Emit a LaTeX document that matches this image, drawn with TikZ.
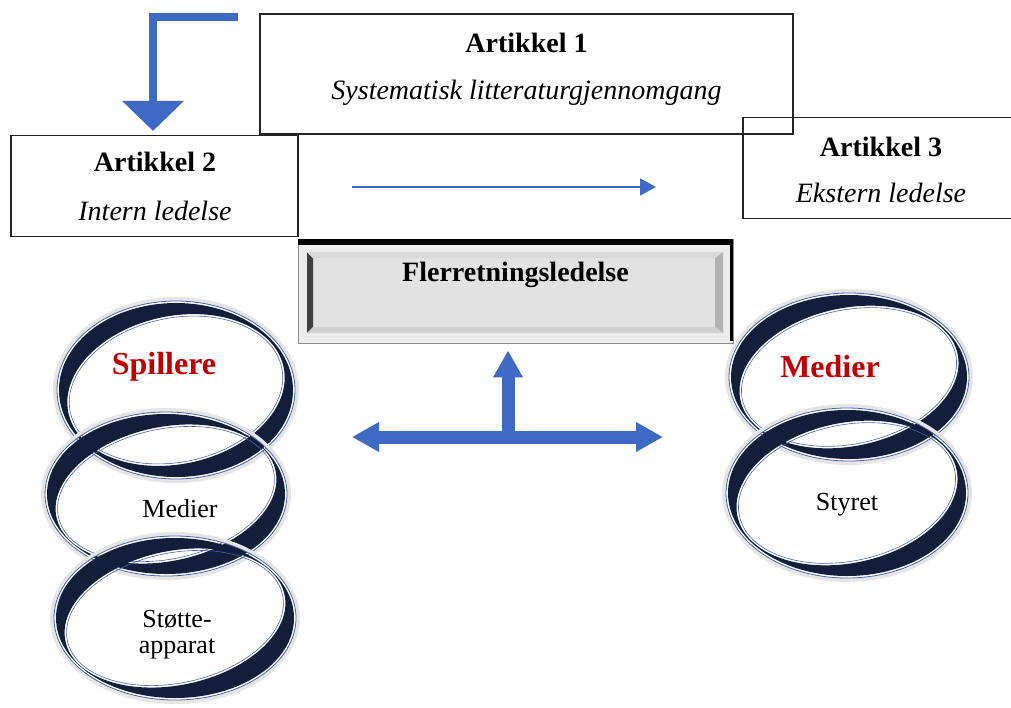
\documentclass[tikz,border=0pt]{standalone}
\usepackage{fontspec}
\setmainfont{Liberation Serif}
\usetikzlibrary{arrows.meta}
\usetikzlibrary{positioning}

% one ring of the chain: centre, x radius, y radius
\newcommand{\ringlink}[3]{%
	\begin{scope}[shift={#1}]
		\draw[line width=4pt, black!10] (0,0) ellipse [x radius=#2+4, y radius=#3+4];
		\draw[RING_LINE, line width=0.8pt] (0,0) ellipse [x radius=#2+2, y radius=#3+2];
		\fill[RING_NAVY, even odd rule] (0,0) ellipse [x radius=#2, y radius=#3]
			(0,0) ellipse [x radius=#2-7, y radius=#3-13, rotate=12];
		\draw[RING_LINE, line width=0.6pt] (0,0) ellipse [x radius=#2-9, y radius=#3-15, rotate=12];
	\end{scope}}

\begin{document}
\begin{tikzpicture}[x=1pt, y=-1pt,
		artbox/.style={draw, line width=1.1pt, color=BOX_LINE, minimum width=#1, minimum height=101pt},
		boldtext/.style={anchor=base, font=\fontsize{28}{30}\selectfont\bfseries},
		italtext/.style={anchor=base, font=\fontsize{28}{30}\selectfont\itshape},
		ringtext/.style={anchor=base, font=\fontsize{26}{28}\selectfont},
		redtext/.style={anchor=base, text=TITLE_RED, font=\fontsize{32}{34}\selectfont\bfseries},
		fatarrow/.style={ARROW_BLUE, line width=13pt, -{Triangle[width=28pt,length=27pt]}},
		bendarrow/.style={ARROW_BLUE, line width=8pt, line join=miter, -{Triangle[width=60pt,length=30pt]}},
		thinarrow/.style={ARROW_BLUE, line width=2pt, -{Triangle[width=17pt,length=16pt]}}]
	\definecolor{BOX_LINE}{RGB}{35, 35, 35}
	\definecolor{ARROW_BLUE}{RGB}{62, 106, 196}
	\definecolor{RING_NAVY}{RGB}{18, 30, 58}
	\definecolor{RING_LINE}{RGB}{70, 100, 170}
	\definecolor{TITLE_RED}{RGB}{192, 0, 0}
	\definecolor{FRAME_GRAY}{RGB}{236, 236, 236}
	\definecolor{FACE_GRAY}{RGB}{226, 226, 226}
	\useasboundingbox (0,0) rectangle (1011,707);

	% article boxes
	\node[artbox=533pt, minimum height=120pt] (art1box) at (526.5,74) {};
	\node[artbox=287pt] (art2box) at (154.5,186) {};
	\node[artbox=280pt] (art3box) at (883,168) {};

	\node[boldtext] (art1title) at (526.5,52) {Artikkel 1};
	\node[italtext] (art1sub) at (526.5,99) {Systematisk litteraturgjennomgang};
	\node[boldtext] (art2title) at (155,171) {Artikkel 2};
	\node[italtext] (art2sub) at (155,220) {Intern ledelse};
	\node[boldtext] (art3title) at (881,156) {Artikkel 3};
	\node[italtext] (art3sub) at (881,202) {Ekstern ledelse};

	% arrows between the articles
	\coordinate (bendstart) at (238,16.5);
	\draw[bendarrow, shorten >=4pt] (bendstart) -| ([xshift=-1.5pt]art2box.north);
	\coordinate (thinfrom) at (352,187);
	\coordinate (thinto) at (656,187);
	\draw[thinarrow] (thinfrom) -- (thinto);

	% bevelled box
	\node[draw=black!45, line width=0.8pt, fill=FRAME_GRAY, minimum width=435pt, minimum height=104pt] (fler) at (515.5,291) {};
	\draw[black, line width=6pt] (298,241.5) -- (733,241.5);
	\draw[black, line width=2.2pt] (731.5,241) -- (731.5,341);
	\fill[FACE_GRAY] (307,252) rectangle (723,333);
	\fill[black!75] (307,252) -- (313,258) -- (313,327) -- (307,333) -- cycle;
	\fill[black!30] (723,252) -- (715,258) -- (715,327) -- (723,333) -- cycle;
	\fill[black!18] (307,333) -- (313,327) -- (715,327) -- (723,333) -- cycle;
	\fill[white!85!black] (307,252) -- (313,258) -- (715,258) -- (723,252) -- cycle;
	\node[boldtext] (flertitle) at (515.5,281) {Flerretningsledelse};

	% T arrow
	\coordinate (tjunction) at (508,437);
	\coordinate (tleft) at (352,437);
	\coordinate (tright) at (663,437);
	\draw[fatarrow, {Triangle[width=28pt,length=27pt]}-{Triangle[width=28pt,length=27pt]}] (tleft) -- (tright);
	\draw[fatarrow, shorten >=7pt] ([yshift=-6pt]tjunction) -- (tjunction |- fler.south);

	% chain of rings, left
	\ringlink{(176,390)}{117}{87}
	\ringlink{(166,494)}{119}{80}
	\ringlink{(175,618)}{119}{80}
	\node[redtext] (spillere) at (164,374) {Spillere};
	\node[ringtext] (medierleft) at (180,517) {Medier};
	\node[ringtext] (stotte) at (177,627) {Støtte-};
	\node[ringtext] (apparat) at (177,653) {apparat};

	% chain of rings, right
	\ringlink{(849,377)}{118}{82}
	\ringlink{(847,493)}{119}{83}
	\node[redtext] (medierright) at (830,377) {Medier};
	\node[ringtext] (styret) at (847,510) {Styret};
\end{tikzpicture}
\end{document}
